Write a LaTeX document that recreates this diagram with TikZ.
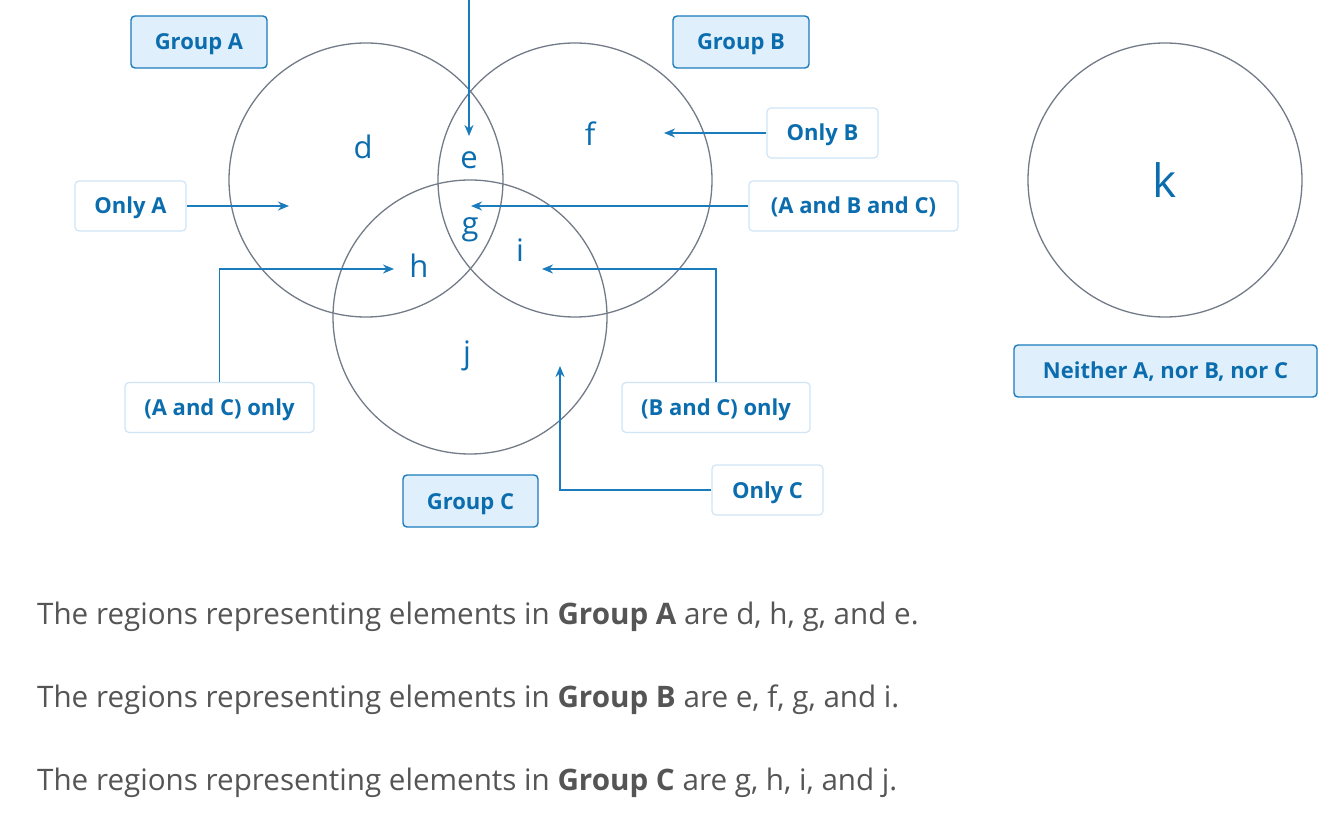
\documentclass[tikz,border=0pt]{standalone}
\usepackage{fontspec}
\setmainfont{Open Sans}
\usetikzlibrary{arrows.meta}
\definecolor{txtblue}{HTML}{0B6DAE}
\definecolor{lineblue}{HTML}{1A7BBD}
\definecolor{boxfill}{HTML}{DFF0FC}
\definecolor{lightborder}{HTML}{CFE5F6}
\definecolor{circgray}{HTML}{737B88}
\definecolor{bodygray}{HTML}{555555}
\begin{document}
\begin{tikzpicture}[x=1pt,y=-1pt,
  setcirc/.style={draw=circgray,line width=1.3pt,circle,minimum size=274pt,inner sep=0pt},
  grpbox/.style={draw=lineblue,fill=boxfill,line width=1.4pt,rounded corners=4pt,
     text=txtblue,font=\fontsize{22}{26}\selectfont\bfseries,minimum height=52pt,inner xsep=0pt,
     text height=16pt,text depth=0pt},
  lblbox/.style={draw=lightborder,fill=white,line width=1.2pt,rounded corners=4pt,
     text=txtblue,font=\fontsize{22}{26}\selectfont\bfseries,minimum height=50pt,inner xsep=0pt,
     text height=16pt,text depth=0pt},
  letter/.style={text=txtblue,font=\fontsize{31}{36}\selectfont,inner sep=0pt},
  conn/.style={draw=lineblue,line width=1.6pt,-{Stealth[length=11pt,width=9pt]}},
  body/.style={text=bodygray,font=\fontsize{29.6}{34}\selectfont,anchor=base west,inner sep=0pt}
]
\useasboundingbox (0,0) rectangle (1334,818);
\fill[white] (0,0) rectangle (1334,818);
% circles
\node[setcirc] (cA) at (366,180) {};
\node[setcirc] (cB) at (575,180) {};
\node[setcirc] (cC) at (470,317) {};
\node[setcirc] (cK) at (1165,180) {};
% region letters
\node[letter] (d) at (363,147) {d};
\node[letter] (e) at (469,160) {e};
\node[letter] (f) at (590,134) {f};
\node[letter] (g) at (470,230) {g};
\node[letter] (h) at (419,266) {h};
\node[letter] (i) at (520,250) {i};
\node[letter] (j) at (467,356) {j};
\node[letter,font=\fontsize{46}{52}\selectfont] (k) at (1165,180) {k};
% group boxes
\node[grpbox,minimum width=136pt] (gA) at (199,42) {Group A};
\node[grpbox,minimum width=136pt] (gB) at (741,42) {Group B};
\node[grpbox,minimum width=135pt] (gC) at (470.5,501) {Group C};
\node[grpbox,minimum width=303pt] (gN) at (1165.5,371) {Neither A, nor B, nor C};
% label boxes
\node[lblbox,minimum width=111pt] (oA) at (130.5,206) {Only A};
\node[lblbox,minimum width=111pt] (oB) at (822.5,133) {Only B};
\node[lblbox,minimum width=209pt] (abc) at (853.5,206) {(A and B and C)};
\node[lblbox,minimum width=189pt] (ac) at (219.5,407.5) {(A and C) only};
\node[lblbox,minimum width=188pt] (bc) at (716,407.5) {(B and C) only};
\node[lblbox,minimum width=111pt] (oC) at (767.5,490) {Only C};
% connector ends
\coordinate (top) at (469,-2);
\coordinate (eT) at (469,136);
\coordinate (dT) at (289,206);
\coordinate (fT) at (664,133);
\coordinate (gT) at (471,206);
\coordinate (hT) at (394,269);
\coordinate (iT) at (542,269);
\coordinate (jT) at (560,366);
% connectors
\draw[conn] (top) -- (eT);
\draw[conn] (oA.east) -- (dT);
\draw[conn] (oB.west) -- (fT);
\draw[conn] (abc.west) -- (gT);
\draw[conn] (ac.north) |- (hT);
\draw[conn] (bc.north) |- (iT);
\draw[conn] (oC.west) -| (jT);
% explanatory text
\node[body] (t1) at (37,624) {The regions representing elements in \textbf{Group A} are d, h, g, and e.};
\node[body] (t2) at (37,707) {The regions representing elements in \textbf{Group B} are e, f, g, and i.};
\node[body] (t3) at (37,790) {The regions representing elements in \textbf{Group C} are g, h, i, and j.};
\end{tikzpicture}
\end{document}
